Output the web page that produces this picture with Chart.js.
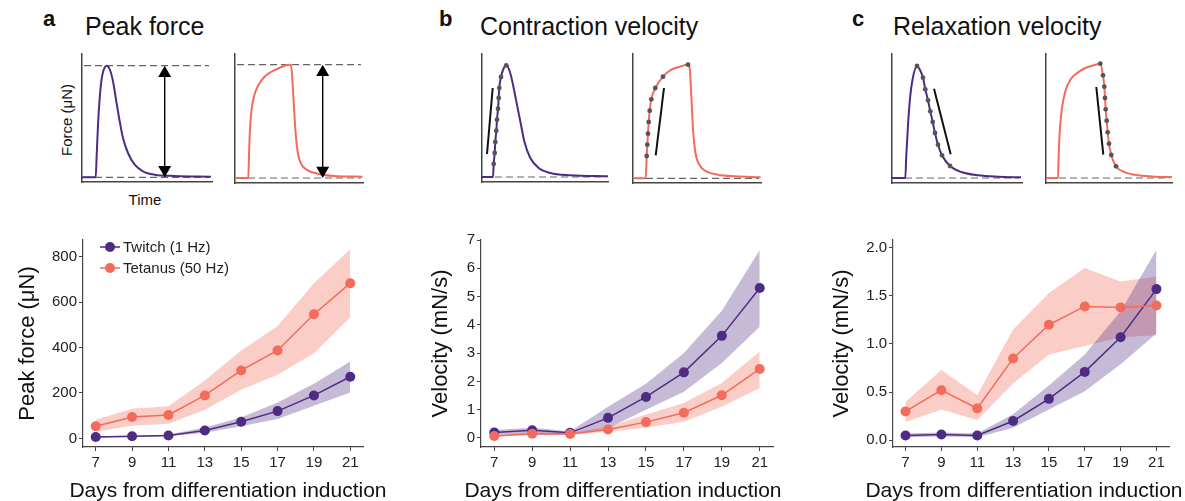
<!DOCTYPE html>
<html>
<head>
<meta charset="utf-8">
<script src="https://cdn.jsdelivr.net/npm/chart.js@4.4.1/dist/chart.umd.min.js"></script>
<style>
  body { margin: 0; background: #fff; width: 1185px; height: 501px; overflow: hidden; position: relative;
         font-family: "Liberation Sans", Arial, sans-serif; color: #111; }
  canvas { position: absolute; }
  .txt { position: absolute; white-space: nowrap; }
  .letter { font-weight: bold; font-size: 22px; line-height: 22px; top: 8px; }
  .head { font-size: 25px; line-height: 25px; top: 14px; }
  .lab { font-size: 15px; line-height: 15px; transform: translate(-50%, -50%); }
  .xt { font-size: 21px; line-height: 21px; top: 479px; transform: translateX(-50%); }
  .leg { font-size: 15px; line-height: 18px; color: #222; display: flex; align-items: center; }
  .leg svg { margin-right: 3px; }
</style>
</head>
<body>

<div class="txt letter" style="left:43px">a</div>
<div class="txt head" style="left:85px">Peak force</div>
<div class="txt letter" style="left:439px">b</div>
<div class="txt head" style="left:480px">Contraction velocity</div>
<div class="txt letter" style="left:852px">c</div>
<div class="txt head" style="left:893px">Relaxation velocity</div>

<div class="txt lab" style="left:66px;top:120px;transform:translate(-50%,-50%) rotate(-90deg)">Force (μN)</div>
<div class="txt lab" style="left:145px;top:199px">Time</div>

<canvas id="skAL"></canvas>
<canvas id="skAR"></canvas>
<canvas id="skBL"></canvas>
<canvas id="skBR"></canvas>
<canvas id="skCL"></canvas>
<canvas id="skCR"></canvas>

<canvas id="chartA"></canvas>
<canvas id="chartB"></canvas>
<canvas id="chartC"></canvas>

<div class="txt xt" style="left:228px">Days from differentiation induction</div>
<div class="txt xt" style="left:623px">Days from differentiation induction</div>
<div class="txt xt" style="left:1024px">Days from differentiation induction</div>

<div class="txt leg" style="left:100px;top:238px">
  <svg width="20" height="12"><line x1="0" y1="6" x2="20" y2="6" stroke="#4e2c84" stroke-width="1.5"/><circle cx="10" cy="6" r="5" fill="#4e2c84"/></svg>Twitch (1 Hz)
</div>
<div class="txt leg" style="left:100px;top:259px">
  <svg width="20" height="12"><line x1="0" y1="6" x2="20" y2="6" stroke="#f26b5b" stroke-width="1.5"/><circle cx="10" cy="6" r="5" fill="#f26b5b"/></svg>Tetanus (50 Hz)
</div>

<script>
// ---- measured series, days from differentiation induction ----
var days = [7, 9, 11, 13, 15, 17, 19, 21];

// a: peak force (uN)
var forceTwitch    = [6, 9, 13, 35, 73, 120, 189, 271];
var forceTwitchLo  = [3, 5, 9, 25, 53, 85, 144, 202];
var forceTwitchHi  = [9, 12, 17, 48, 92, 158, 240, 338];
var forceTetanus   = [53, 94, 103, 189, 299, 387, 546, 683];
var forceTetanusLo = [29, 56, 64, 126, 214, 280, 375, 533];
var forceTetanusHi = [82, 130, 141, 255, 387, 495, 683, 832];

// b: contraction velocity (mN/s)
var contTwitch    = [0.19, 0.27, 0.18, 0.71, 1.45, 2.32, 3.61, 5.30];
var contTwitchLo  = [0.10, 0.17, 0.12, 0.34, 1.00, 1.63, 2.65, 3.93];
var contTwitchHi  = [0.28, 0.36, 0.24, 1.10, 1.92, 3.00, 4.50, 6.65];
var contTetanus   = [0.07, 0.15, 0.14, 0.30, 0.56, 0.89, 1.51, 2.44];
var contTetanusLo = [0.03, 0.10, 0.10, 0.22, 0.36, 0.57, 1.10, 1.77];
var contTetanusHi = [0.10, 0.20, 0.18, 0.40, 0.83, 1.24, 1.94, 3.06];

// c: relaxation velocity (mN/s)
var relaxTwitch    = [0.05, 0.06, 0.05, 0.20, 0.43, 0.71, 1.07, 1.57];
var relaxTwitchLo  = [0.03, 0.04, 0.03, 0.13, 0.32, 0.51, 0.79, 1.11];
var relaxTwitchHi  = [0.07, 0.08, 0.07, 0.27, 0.57, 0.89, 1.34, 1.98];
var relaxTetanus   = [0.30, 0.52, 0.33, 0.85, 1.20, 1.39, 1.38, 1.40];
var relaxTetanusLo = [0.19, 0.32, 0.21, 0.59, 0.89, 0.98, 1.07, 1.09];
var relaxTetanusHi = [0.40, 0.73, 0.47, 1.15, 1.53, 1.79, 1.65, 1.70];

var yTicksForce = [0, 200, 400, 600, 800];
var yTicksCont  = [0, 1, 2, 3, 4, 5, 6, 7];
var yTicksRelax = [0, 0.5, 1, 1.5, 2];

// ---- schematic traces (arbitrary time / force units) ----
var aTwT = [0, 13.3, 13.7, 14.7, 16, 17.7, 19.3, 21.3, 24.7, 28, 31, 34.3, 37.7, 41, 46, 52.7, 61, 72.7, 92.7, 129];
var aTwF = [4.7, 4.7, 4.7, 27, 57, 84, 100.7, 111, 116.3, 112, 100.7, 80.7, 60.7, 44, 29, 17.3, 10.7, 7.3, 6, 5.3];
var aTeT = [0, 13.3, 14, 15, 16.7, 19.3, 23.3, 29.3, 36, 44.3, 54.3, 56, 58.3, 60.3, 62.7, 66, 72.7, 82.7, 99.3, 127.5];
var aTeF = [5, 5, 27.7, 54.3, 74.3, 87.7, 97.7, 106, 111, 115, 118.3, 117.7, 87.7, 54.3, 31, 19.3, 12.7, 9.3, 7, 6.3];

var bTwT = [0, 11, 11.7, 12.7, 13.3, 14.3, 15, 16, 16.7, 17.3, 19, 21, 24.3, 27.7, 31, 34.3, 38.3, 42.3, 48.3, 56.7, 68.3, 88.3, 126];
var bTwF = [5, 5, 18, 29, 40, 51.3, 62.3, 73.3, 84, 94, 105, 112, 116.7, 110.7, 97.3, 80.7, 60.7, 40.7, 24, 14, 9, 6.7, 5.7];
var bTwDotT = [11.7, 12.7, 13.3, 14.3, 15, 16, 16.7, 17.3, 19, 24.3];
var bTwDotF = [18, 29, 40, 51.3, 62.3, 73.3, 84, 94, 105, 116.7];
var bTwSlopeT = [5, 10.7];
var bTwSlopeF = [28, 94];
var bTeT = [0, 12.7, 13.7, 14.3, 15, 15.7, 16.7, 18.3, 22.3, 30, 38.3, 46.7, 55, 56.7, 58.3, 60, 62.3, 66.7, 73.3, 85, 101.7, 127.5];
var bTeF = [4.7, 4.7, 27, 38.3, 49.3, 61, 72.3, 83.7, 95, 106.3, 113.3, 116.3, 118.3, 114.3, 87.7, 54.3, 31, 17.7, 11.7, 8.3, 6.7, 5.7];
var bTeDotT = [13.7, 14.3, 15, 15.7, 16.7, 18.3, 22.3, 30, 55];
var bTeDotF = [27, 38.3, 49.3, 61, 72.3, 83.7, 95, 106.3, 118.3];
var bTeSlopeT = [22.7, 31];
var bTeSlopeF = [27.7, 95];

var cTwT = [0, 13.3, 14.3, 16, 18, 20.7, 25, 28, 31, 33.3, 36, 38.3, 40.7, 43, 46, 50, 58, 69.3, 86, 106, 129];
var cTwF = [5, 5, 27.7, 57.7, 84.3, 104.3, 117, 113, 105.3, 93.7, 82.7, 71.7, 61, 50, 38.3, 27.7, 17, 11, 7.7, 6.3, 5.7];
var cTwDotT = [25, 31, 33.3, 36, 38.3, 40.7, 43, 46, 50, 58];
var cTwDotF = [117, 105.3, 93.7, 82.7, 71.7, 61, 50, 38.3, 27.7, 17];
var cTwSlopeT = [42, 58.7];
var cTwSlopeF = [94.3, 28.7];
var cTeT = [0, 12, 12.7, 14, 16, 19.3, 24.3, 31, 39.3, 47.7, 54.3, 57, 58.3, 59, 59.7, 60.7, 61.7, 63, 65.3, 70, 79.3, 92.7, 109.3, 126];
var cTeF = [5, 5, 28.3, 55, 75, 91.7, 103.3, 110, 115, 117.7, 119.3, 107.7, 96.3, 85, 73.7, 62.3, 50.7, 39.3, 28, 16.7, 10.7, 7.7, 6.3, 6];
var cTeDotT = [54.3, 57, 58.3, 59, 59.7, 60.7, 61.7, 63, 65.3, 70];
var cTeDotF = [119.3, 107.7, 96.3, 85, 73.7, 62.3, 50.7, 39.3, 28, 16.7];
var cTeSlopeT = [50.3, 57.3];
var cTeSlopeF = [96, 28.3];

var PURPLE = '#4e2c84';
var CORAL = '#f26b5b';
var PURPLE_BAND = 'rgba(78,44,132,0.32)';
var CORAL_BAND = 'rgba(242,107,91,0.34)';
var AXIS = '#444';

Chart.defaults.font.family = '"Liberation Sans", Arial, sans-serif';

function pts(xs, ys) {
    return xs.map(function (x, i) { return {x: x, y: ys[i]}; });
}

function place(cv, left, top, w, h) {
    cv.width = w; cv.height = h;
    cv.style.left = left + 'px'; cv.style.top = top + 'px';
}

// ---------- small schematic plots ----------
function curve(T, F, color) {
    return {data: pts(T, F), borderColor: color, borderWidth: 2, pointRadius: 0,
            cubicInterpolationMode: 'monotone', fill: false, clip: 10};
}
function dashed(level, x1) {
    return {data: [{x: 2, y: level}, {x: x1, y: level}], borderColor: '#666', borderWidth: 1.2,
            borderDash: [7, 4], pointRadius: 0, fill: false, clip: 10};
}
function dots(T, F) {
    return {data: pts(T, F), showLine: false, pointRadius: 2.4, pointBackgroundColor: '#555',
            pointBorderWidth: 0, clip: 10};
}
function slope(T, F) {
    return {data: pts(T, F), borderColor: '#111', borderWidth: 2, pointRadius: 0, fill: false, clip: 10};
}
function arrow(x, top, base) {
    return [
        {data: [{x: x, y: top - 7.5}, {x: x, y: base + 7.5}], showLine: false, pointStyle: 'triangle',
         pointRadius: 7.5, pointRotation: [0, 180], pointBackgroundColor: '#000', pointBorderWidth: 0, clip: 10},
        {data: [{x: x, y: top - 4}, {x: x, y: base + 4}], borderColor: '#000', borderWidth: 1.4,
         pointRadius: 0, fill: false, clip: 10}
    ];
}

function makeSketch(id, area, sets) {
    var pad = 8;
    var w = area[2] - area[0], h = area[3] - area[1];
    var cv = document.getElementById(id);
    place(cv, area[0] - pad, area[1] - pad, w + 2 * pad, h + 2 * pad);
    new Chart(cv, {
        type: 'line',
        data: {datasets: sets},
        options: {
            responsive: false, animation: false, events: [],
            layout: {padding: pad},
            plugins: {legend: {display: false}, tooltip: {enabled: false}},
            scales: {
                x: {type: 'linear', min: 0, max: w, afterFit: function (s) { s.height = 0; },
                    grid: {display: false}, ticks: {display: false}, border: {color: AXIS, width: 1.5}},
                y: {type: 'linear', min: 0, max: h, afterFit: function (s) { s.width = 0; },
                    grid: {display: false}, ticks: {display: false}, border: {color: AXIS, width: 1.5}}
            }
        }
    });
}

var maxOf = function (a) { return Math.max.apply(null, a); };

makeSketch('skAL', [82, 54, 212, 182],
    arrow(82.7, maxOf(aTwF), aTwF[0]).concat([curve(aTwT, aTwF, PURPLE),
        dashed(maxOf(aTwF), 127), dashed(aTwF[0], 127)]));
makeSketch('skAR', [235, 54, 363, 183],
    arrow(87.7, maxOf(aTeF), aTeF[0]).concat([curve(aTeT, aTeF, CORAL),
        dashed(maxOf(aTeF), 126), dashed(aTeF[0], 126)]));
makeSketch('skBL', [482, 54, 608, 182],
    [dots(bTwDotT, bTwDotF), slope(bTwSlopeT, bTwSlopeF), curve(bTwT, bTwF, PURPLE), dashed(bTwF[0], 124)]);
makeSketch('skBR', [633, 54, 761, 183],
    [dots(bTeDotT, bTeDotF), slope(bTeSlopeT, bTeSlopeF), curve(bTeT, bTeF, CORAL), dashed(bTeF[0], 126)]);
makeSketch('skCL', [892, 54, 1022, 183],
    [dots(cTwDotT, cTwDotF), slope(cTwSlopeT, cTwSlopeF), curve(cTwT, cTwF, PURPLE), dashed(cTwF[0], 127)]);
makeSketch('skCR', [1046, 54, 1172, 183],
    [dots(cTeDotT, cTeDotF), slope(cTeSlopeT, cTeSlopeF), curve(cTeT, cTeF, CORAL), dashed(cTeF[0], 124)]);

// ---------- main panels ----------
function serie(label, ys, color) {
    return {label: label, data: pts(days, ys), borderColor: color, backgroundColor: color,
            borderWidth: 1.5, pointRadius: 5, pointBorderWidth: 0, fill: false, clip: 8};
}
function band(ys, color, fill) {
    return {data: pts(days, ys), borderColor: 'transparent', borderWidth: 0, pointRadius: 0,
            backgroundColor: color, fill: fill};
}

function makePanel(id, box, area, yMin, yMax, yTicks, yTitle, yTitlePad, fmt, tw, twLo, twHi, te, teLo, teHi) {
    var cv = document.getElementById(id);
    place(cv, box[0], box[1], box[2], box[3]);
    var yW = area[0] - box[0];
    var xH = box[1] + box[3] - area[3];
    new Chart(cv, {
        type: 'line',
        data: {datasets: [
            serie('Tetanus (50 Hz)', te, CORAL),
            serie('Twitch (1 Hz)', tw, PURPLE),
            band(twHi, PURPLE_BAND, '+1'),
            band(twLo, PURPLE_BAND, false),
            band(teHi, CORAL_BAND, '+1'),
            band(teLo, CORAL_BAND, false)
        ]},
        options: {
            responsive: false, animation: false, events: [],
            layout: {padding: {left: 0, bottom: 0, top: area[1] - box[1], right: box[0] + box[2] - area[2]}},
            plugins: {legend: {display: false}, tooltip: {enabled: false}},
            scales: {
                x: {
                    type: 'linear', min: 6.3, max: 21.7,
                    afterFit: function (s) { s.height = xH; },
                    afterBuildTicks: function (s) { s.ticks = days.map(function (d) { return {value: d}; }); },
                    grid: {display: true, drawOnChartArea: false, tickLength: 4, color: AXIS, lineWidth: 1},
                    border: {color: AXIS, width: 1.2},
                    ticks: {color: '#222', font: {size: 15}, padding: 3, maxRotation: 0, autoSkip: false},
                    title: {display: false}
                },
                y: {
                    type: 'linear', min: yMin, max: yMax,
                    afterFit: function (s) { s.width = yW; },
                    afterBuildTicks: function (s) { s.ticks = yTicks.map(function (v) { return {value: v}; }); },
                    grid: {display: true, drawOnChartArea: false, tickLength: 4, color: AXIS, lineWidth: 1},
                    border: {color: AXIS, width: 1.2},
                    ticks: {color: '#222', font: {size: 15}, padding: 2, callback: fmt},
                    title: {display: true, text: yTitle, color: '#111', font: {size: 22},
                            padding: {top: yTitlePad, bottom: 0}}
                }
            }
        }
    });
}

var plain = function (v) { return String(v); };
var oneDec = function (v) { return v.toFixed(1); };

makePanel('chartA', [0, 225, 400, 276], [83, 240, 363, 447], -38, 873, yTicksForce, 'Peak force (μN)', 15, plain,
    forceTwitch, forceTwitchLo, forceTwitchHi, forceTetanus, forceTetanusLo, forceTetanusHi);
makePanel('chartB', [400, 225, 400, 276], [481, 240, 773, 447], -0.32, 7.0, yTicksCont, 'Velocity (mN/s)', 28, plain,
    contTwitch, contTwitchLo, contTwitchHi, contTetanus, contTetanusLo, contTetanusHi);
makePanel('chartC', [800, 225, 385, 276], [893, 240, 1169, 447], -0.07, 2.08, yTicksRelax, 'Velocity (mN/s)', 29, oneDec,
    relaxTwitch, relaxTwitchLo, relaxTwitchHi, relaxTetanus, relaxTetanusLo, relaxTetanusHi);
</script>
</body>
</html>
